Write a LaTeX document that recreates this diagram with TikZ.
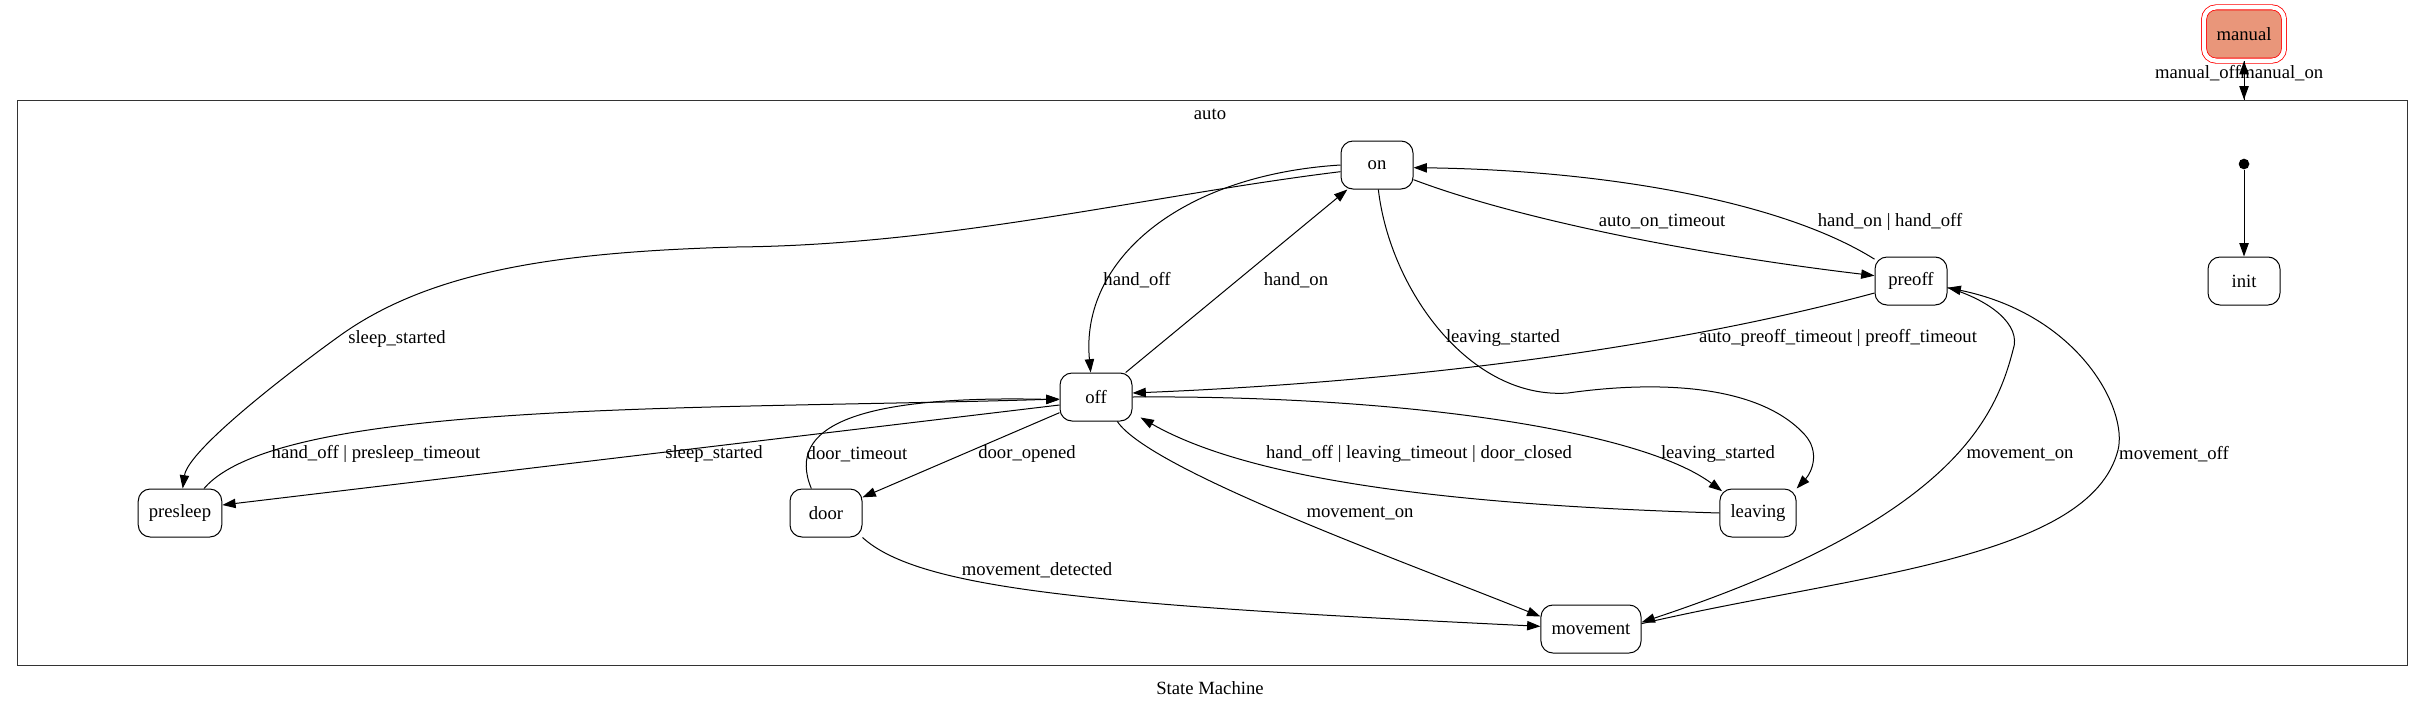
\documentclass[tikz,border=0pt]{standalone}
\usepackage{fontspec}
\setmainfont{Liberation Serif}
\usetikzlibrary{arrows.meta}
\definecolor{salmonfill}{HTML}{E9967A}
\newcommand{\gvfont}{\fontsize{14pt}{16pt}\selectfont}

\begin{document}
\begin{tikzpicture}[x=0.75pt, y=-0.75pt,
  state/.style={draw, line width=0.75pt, rounded corners=9pt, minimum width=54pt, minimum height=36pt, inner xsep=8pt, inner ysep=0pt, font=\gvfont},
  trans/.style={line width=0.75pt, -{Triangle[length=10pt,width=7pt]}},
  lbl/.style={font=\gvfont, inner sep=0pt}]
  \useasboundingbox (0,0) rectangle (2424,711);

  % Cluster: auto
  \node[draw=black!80, line width=0.75pt, minimum width=1792.5pt, minimum height=423.75pt, inner sep=0pt] (autobox) at (1212,382.5) {};
  \node[lbl] (autolbl) at (1210,114) {auto};
  \node[lbl] (title) at (1210,688) {State Machine};

  % States
  \node[state, draw=red, fill=salmonfill, line width=0.6pt, double=white, double distance=3.2pt, minimum width=60pt, minimum height=40pt] (manual) at (2244,34) {manual};
  \node[state] (on) at (1377,165) {on};
  \node[state] (preoff) at (1911,281) {preoff};
  \node[state] (init) at (2244,281) {init};
  \node[state] (off) at (1096,397) {off};
  \node[state] (presleep) at (180,513) {presleep};
  \node[state] (door) at (826,513) {door};
  \node[state] (leaving) at (1758,513) {leaving};
  \node[state] (movement) at (1591,629) {movement};
  \node[circle, fill, inner sep=0pt, minimum size=8pt] (start) at (2244,164) {};

  % manual <-> auto
  \draw[trans] (manual.south) -- (manual |- autobox.north);
  \draw[trans] (manual |- autobox.north) -- (manual.south);
  \node[lbl, anchor=east] (lmanoff) at (2241,73) {manual\_off};
  \node[lbl, anchor=west] (lmanon) at (2240,73) {manual\_on};

  % initial
  \draw[trans] (start) -- (init);

  % on <-> off
  \draw[trans] (on.west) .. controls (1180,175) and (1080,260) .. ([xshift=-4pt]off.north);
  \draw[trans] (off) -- (on);
  \node[lbl] (lhandoff) at (1137,280) {hand\_off};
  \node[lbl] (lhandon) at (1296,280) {hand\_on};

  % presleep
  \draw[trans] ([yshift=-5pt]on.west) .. controls (1150,195) and (950,245) .. (736,247) .. controls (560,252) and (430,270) .. (338,337) .. controls (288,373) and (188,450) .. ([xshift=2pt]presleep.north);
  \draw[trans] ([xshift=18pt]presleep.north) .. controls (280,400) and (700,410) .. ([yshift=-1.5pt]off.west);
  \draw[trans] ([yshift=-6pt]off.west) -- ([yshift=6pt]presleep.east);
  \node[lbl] (lsleep1) at (397,339) {sleep\_started};
  \node[lbl] (lpresleep) at (376,454) {hand\_off | presleep\_timeout};
  \node[lbl] (lsleep2) at (714,454) {sleep\_started};

  % door
  \draw[trans] ([xshift=-11pt]door.north) .. controls (785,425) and (860,395) .. ([yshift=-2pt]off.west);
  \draw[trans] (off) -- (door);
  \draw[trans] (door.south east) .. controls (920,590) and (1100,605) .. ([yshift=2pt]movement.west);
  \node[lbl] (ldoortime) at (857,454) {door\_timeout};
  \node[lbl] (ldooropen) at (1027,454) {door\_opened};
  \node[lbl] (lmovedet) at (1037,570) {movement\_detected};

  % off -> movement
  \draw[trans] ([xshift=16pt]off.south) .. controls (1150,470) and (1400,560) .. ([yshift=-9pt]movement.north west);
  \node[lbl] (lmoveon1) at (1360,513) {movement\_on};

  % leaving
  \draw[trans] (off.east) .. controls (1400,395) and (1640,430) .. ([xshift=2pt,yshift=-2pt]leaving.north west);
  \draw[trans] (leaving.west) .. controls (1450,505) and (1250,480) .. ([xshift=6pt,yshift=3pt]off.south east);
  \draw[trans] ([xshift=1pt]on.south) .. controls (1390,290) and (1470,400) .. (1568,393) .. controls (1660,380) and (1760,385) .. (1805,435) .. controls (1820,452) and (1812,472) .. (leaving.north east);
  \node[lbl] (lleave1) at (1718,454) {leaving\_started};
  \node[lbl] (lleaveback) at (1419,454) {hand\_off | leaving\_timeout | door\_closed};
  \node[lbl] (lleave2) at (1503,338) {leaving\_started};

  % preoff
  \draw[trans] ([yshift=-11pt]on.east) .. controls (1520,220) and (1700,255) .. ([yshift=4pt]preoff.west);
  \draw[trans] ([yshift=-2pt]preoff.north west) .. controls (1780,200) and (1600,170) .. ([yshift=-2pt]on.east);
  \draw[trans] ([yshift=-9pt]preoff.west) .. controls (1700,340) and (1450,380) .. ([yshift=3pt]off.east);
  \node[lbl] (lautoon) at (1662,222) {auto\_on\_timeout};
  \node[lbl] (lhandboth) at (1890,222) {hand\_on | hand\_off};
  \node[lbl] (lpreofftime) at (1838,338) {auto\_preoff\_timeout | preoff\_timeout};

  % preoff <-> movement
  \draw[trans] ([yshift=-5pt]preoff.east) .. controls (1990,300) and (2022,325) .. (2013,350) .. controls (1995,420) and (1950,520) .. ([yshift=5pt]movement.east);
  \draw[trans] ([yshift=4pt]movement.east) .. controls (1850,575) and (2090,560) .. (2118,450) .. controls (2128,410) and (2080,315) .. ([yshift=-5pt]preoff.east);
  \node[lbl] (lmoveon2) at (2020,454) {movement\_on};
  \node[lbl] (lmoveoff) at (2174,454) {movement\_off};
\end{tikzpicture}
\end{document}
